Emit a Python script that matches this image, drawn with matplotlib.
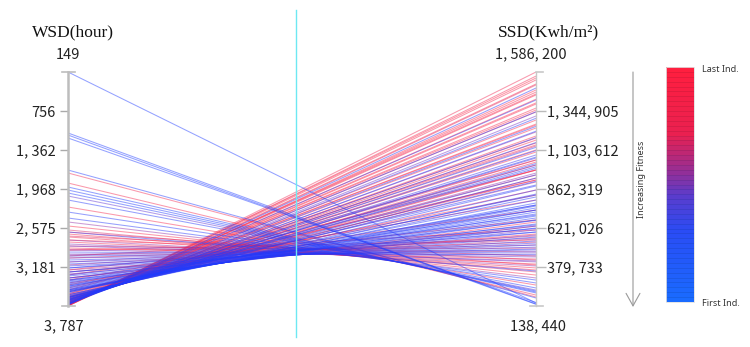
#parallel coordinates of the individuals: WSD vs SSD, coloured by individual order
import matplotlib.pyplot as plt
import matplotlib as mpl
import numpy as np
from matplotlib.collections import LineCollection
from matplotlib.colors import LinearSegmentedColormap, Normalize

# individuals in order, first -> last
wsd = [149, 1097, 1129, 1175, 3569, 1673, 3538, 1937, 3507, 1984, 3476, 2030,
       3766, 3750, 3735, 3720, 3705, 3690, 3676, 3660, 3645, 3700, 3745, 3760, 3655, 3685, 3725,
       3445, 2139, 3414, 2326, 3383, 2419, 3321, 2637, 3258, 3647, 3480, 3632,
       3430, 3616, 3390, 3612, 3355, 3585, 3305, 3569, 3262, 3554, 3196, 3538,
       3554, 3196, 3522, 3134, 3492, 3072, 3461, 3010, 3771, 2948, 3756,
       3165, 3709, 3103, 3398, 3041, 3694, 2979, 2077, 3352, 2916, 3678, 2854,
       3756, 3290, 2823, 3663, 2481, 2761, 3740, 3227, 3103, 3647, 2994, 3725,
       3150, 2854, 3663, 2605, 2699, 3785, 3632, 3383, 3709, 3600,
       3694, 2885, 3787, 1719, 3784, 3678, 2792, 3779, 3430, 3777, 3663, 2714,
       3771, 1875, 3769, 3647, 2668, 3766, 3352, 3756, 3616, 3041, 3753, 2248,
       3750, 3569, 2916, 3740, 3461, 3737, 3600, 2761, 3735, 3305, 3725, 3538,
       2637, 3722, 2543, 3709, 3507, 3010, 3774, 3227, 3758, 2916, 3742, 3258,
       3728, 3694, 3690, 3786, 3768, 3760]
ssd = [157000, 151000, 149000, 160000, 776000, 188000, 745000, 219000, 720000, 225000, 695000, 231000,
       1300000, 1220000, 1150000, 1100000, 1060000, 1020000, 990000, 950000, 910000, 1120000, 1250000,
       1340000, 930000, 1000000, 1180000,
       671000, 250000, 646000, 281000, 621000, 299000, 596000, 355000, 565000, 881000, 763000, 856000,
       732000, 831000, 701000, 813000, 668000, 887000, 640000, 825000, 618000, 794000, 596000, 763000,
       757000, 541000, 732000, 516000, 708000, 491000, 683000, 473000, 1487000, 454000, 1413000,
       528000, 1073000, 503000, 633000, 485000, 1054000, 460000, 237000, 609000, 442000, 1011000, 417000,
       1314000, 578000, 411000, 961000, 312000, 386000, 1215000, 553000, 559000, 906000, 516000, 1128000,
       572000, 473000, 1042000, 349000, 423000, 1506000, 980000, 794000, 1178000, 918000,
       1029000, 429000, 1586200, 194000, 1561000, 980000, 398000, 1537000, 658000, 1512000, 930000, 374000,
       1462000, 206000, 1444000, 1011000, 361000, 1388000, 633000, 1363000, 949000, 534000, 1339000, 268000,
       1289000, 856000, 497000, 1264000, 825000, 1240000, 1042000, 448000, 1190000, 732000, 1165000, 980000,
       392000, 1147000, 330000, 1104000, 918000, 609000, 1549000, 671000, 1450000, 547000, 1351000, 584000,
       1258000, 1135000, 1091000, 1475000, 1418000, 1395000]

wsd_ticks = [149, 756, 1362, 1968, 2575, 3181, 3787]
ssd_ticks = [138440, 379733, 621026, 862319, 1103612, 1344905, 1586200]


def fmt(v):
    return f"{v:,}".replace(",", ", ")


plt.rcParams['font.family'] = ['Noto Sans CJK SC', 'DejaVu Sans']
cmap = LinearSegmentedColormap.from_list(
    "ind", [(0.0, "#1a6bff"), (0.3, "#2a4cf5"), (0.45, "#5a3ccc"),
            (0.58, "#a02c8c"), (0.72, "#ea2050"), (1.0, "#ff1f3f")])
line_cmap = LinearSegmentedColormap.from_list(
    "lines", [(0.0, "#1f3cff"), (0.4, "#2a36f5"), (0.5, "#7a30c0"),
              (0.62, "#f02a55"), (1.0, "#ff2a48")])

fig = plt.figure(figsize=(7.5, 3.47), dpi=100)
ax = fig.add_axes([68 / 750, 41 / 347, 468 / 750, 234 / 347])
ax.set_xlim(0, 1)
ax.set_ylim(wsd_ticks[-1], wsd_ticks[0])
ax2 = ax.twinx()
ax2.set_ylim(ssd_ticks[0], ssd_ticks[-1])

n = len(wsd)
yl = ax.transLimits.transform(np.column_stack([np.zeros(n), wsd]))[:, 1]
yr = ax2.transLimits.transform(np.column_stack([np.ones(n), ssd]))[:, 1]
colors = line_cmap(np.linspace(0, 1, n))
# first individuals end up on top
segs = [[(0, a), (1, b)] for a, b in zip(yl[::-1], yr[::-1])]
lc = LineCollection(segs, colors=colors[::-1], linewidths=0.75,
                    alpha=0.48, transform=ax.transAxes)
ax.add_collection(lc)

# cyan middle line
ax.plot([0.487, 0.487], [-0.132, 1.265], transform=ax.transAxes, clip_on=False,
        color='#6ee8f2', lw=1)

for s in ['top', 'bottom', 'right']:
    ax.spines[s].set_visible(False)
for s in ['top', 'bottom', 'left']:
    ax2.spines[s].set_visible(False)
ax.spines['left'].set_color('#bdbdbd')
ax.spines['left'].set_linewidth(1.8)
ax2.spines['right'].set_color('#c8c8c8')
ax2.spines['right'].set_linewidth(1)
ax.set_xticks([])

ax.set_yticks(wsd_ticks[1:-1])
ax.set_yticklabels([fmt(v) for v in wsd_ticks[1:-1]])
ax.tick_params(axis='y', length=6, width=1, color='#aaaaaa', labelsize=10.5,
               labelcolor='#222222', pad=3)
ax2.set_yticks(ssd_ticks[1:-1])
ax2.set_yticklabels([fmt(v) for v in ssd_ticks[1:-1]])
ax2.tick_params(axis='y', length=7, width=1, color='#bbbbbb', labelsize=10.5,
                labelcolor='#222222', pad=1)

# end caps
for yy in (0, 1):
    ax.plot([-0.012, 0.014], [yy, yy], transform=ax.transAxes, clip_on=False,
            color='#bdbdbd', lw=1.2)
ax2.plot([0.988, 1.015], [0, 0], transform=ax.transAxes, clip_on=False,
         color='#c8c8c8', lw=1.2)
ax2.plot([1.0, 1.015], [1, 1], transform=ax.transAxes, clip_on=False,
         color='#c8c8c8', lw=1.2)

ax.annotate(fmt(wsd_ticks[0]), xy=(0, 1), xycoords='axes fraction', xytext=(0, 12.5),
            textcoords='offset points', ha='center', va='center', fontsize=10.5, color='#222222')
ax.annotate(fmt(wsd_ticks[-1]), xy=(0, 0), xycoords='axes fraction', xytext=(-3, -14.5),
            textcoords='offset points', ha='center', va='center', fontsize=10.5, color='#222222')
ax.annotate(fmt(ssd_ticks[-1]), xy=(1, 1), xycoords='axes fraction', xytext=(-3.5, 12.5),
            textcoords='offset points', ha='center', va='center', fontsize=10.5, color='#222222')
ax.annotate(fmt(ssd_ticks[0]), xy=(1, 0), xycoords='axes fraction', xytext=(1.5, -14.5),
            textcoords='offset points', ha='center', va='center', fontsize=10.5, color='#222222')

fig.text(73 / 750, 1 - 32 / 347, 'WSD(hour)', ha='center', va='center',
         fontsize=12.5, family='Liberation Serif', color='#111111')
fig.text(548 / 750, 1 - 32 / 347, 'SSD(Kwh/m²)', ha='center', va='center',
         fontsize=12.5, family='Liberation Serif', color='#111111')

# fitness arrow
fig.add_artist(mpl.patches.FancyArrowPatch(
    (633 / 750, 1 - 72 / 347), (633 / 750, 1 - 307 / 347), transform=fig.transFigure,
    arrowstyle='->,head_length=9,head_width=5', color='#9a9a9a', lw=0.8,
    shrinkA=0, shrinkB=0))
fig.text(641 / 750, 1 - 179 / 347, 'Increasing Fitness', rotation=90, ha='center',
         va='center', fontsize=6.5, family='Noto Sans', color='#333333')

# colorbar
cax = fig.add_axes([666 / 750, 1 - 302 / 347, 28 / 750, 235 / 347])
cb = mpl.colorbar.ColorbarBase(cax, cmap=cmap.resampled(48), norm=Normalize(0, 1),
                               boundaries=np.linspace(0, 1, 49), drawedges=True)
cb.dividers.set_color((0, 0, 0, 0.12))
cb.dividers.set_linewidth(0.5)
cb.outline.set_edgecolor('#e0e0e0')
cb.outline.set_linewidth(0.6)
cax.set_yticks([])
fig.text(702 / 750, 1 - 69 / 347, 'Last Ind.', ha='left', va='center',
         fontsize=6.5, family='Noto Sans', color='#333333')
fig.text(702 / 750, 1 - 303 / 347, 'First Ind.', ha='left', va='center',
         fontsize=6.5, family='Noto Sans', color='#333333')

fig.savefig('out.png', dpi=100)
